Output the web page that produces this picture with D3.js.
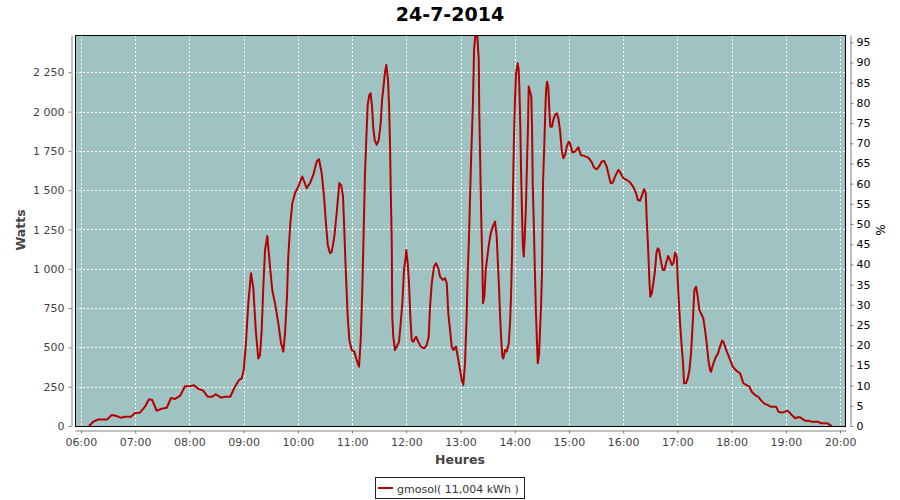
<!DOCTYPE html>
<html><head><meta charset="utf-8">
<script src="https://cdn.jsdelivr.net/npm/d3@7"></script>
<style>body{margin:0;background:#fff}svg{display:block}</style>
</head><body>
<svg id="c" width="900" height="500"></svg>
<script>
// ---- data ----
const chartTitle = "24-7-2014";
const seriesName = "gmosol( 11,004 kWh )";
const xAxisTitle = "Heures";
const yAxisTitle = "Watts";
const y2AxisTitle = "%";
// time of day in minutes after midnight
const times = [368.9,373.6,379.1,389.1,394.0,398.4,403.9,408.7,415.3,419.8,425.3,430.8,435.3,438.9,443.8,449.3,454.9,459.6,464.0,469.6,475.1,480.6,485.1,489.8,495.4,500.2,505.3,509.1,515.0,519.4,525.2,530.4,534.9,537.9,540.1,542.3,545.2,548.2,550.7,553.4,556.2,558.1,560.0,561.8,563.7,566.2,569.2,571.7,574.7,578.4,581.4,583.9,585.8,588.0,589.4,591.7,593.9,596.9,600.5,604.9,609.8,613.5,617.1,620.9,623.4,626.4,629.0,630.8,633.1,635.6,637.5,640.4,643.3,645.9,648.1,650.0,651.4,653.0,655.2,657.0,659.6,662.5,665.1,667.7,669.6,671.3,672.9,674.3,675.8,677.3,679.1,680.6,682.1,683.5,685.1,687.3,689.5,691.7,693.2,694.6,696.5,697.9,699.8,700.9,702.0,702.8,703.9,704.5,705.6,707.5,709.4,712.0,713.8,715.6,717.5,719.4,720.0,721.6,723.0,724.5,726.0,727.8,730.8,733.3,736.0,739.6,742.6,744.8,746.3,748.2,750.7,752.9,755.5,757.3,760.3,762.9,764.8,765.4,766.5,768.4,770.3,772.1,775.0,777.6,779.5,781.4,783.1,785.0,786.9,788.0,789.4,790.5,791.6,792.8,793.9,795.0,796.4,798.6,800.2,800.8,801.9,803.0,804.2,804.9,806.4,807.9,809.7,811.6,813.5,815.7,818.2,820.1,821.2,822.6,823.7,824.9,826.3,827.4,829.3,831.2,833.4,834.8,835.9,837.0,838.1,839.2,840.3,841.5,843.3,844.4,845.1,846.2,847.0,848.1,848.9,850.0,851.1,852.5,853.6,854.7,855.5,856.9,858.4,859.2,860.0,861.1,862.2,863.3,864.4,865.5,866.9,868.0,869.1,870.2,871.3,872.8,873.9,874.7,875.8,877.2,878.3,879.4,881.3,882.7,884.6,886.5,888.3,890.1,892.0,893.8,895.7,897.6,899.8,901.2,903.8,906.8,910.4,913.1,916.7,921.5,925.2,927.8,930.8,933.7,936.3,938.9,941.8,944.4,946.3,948.5,951.0,954.7,957.3,960.2,964.0,967.6,971.3,974.3,976.2,978.7,980.9,983.1,985.0,986.1,987.2,988.3,989.0,990.1,991.7,993.4,995.3,996.8,998.3,999.7,1001.6,1003.8,1005.6,1007.5,1009.7,1011.9,1013.8,1015.6,1017.4,1019.3,1020.4,1021.5,1023.0,1024.8,1026.3,1027.4,1029.6,1031.5,1033.3,1035.1,1037.0,1038.8,1040.7,1042.5,1044.3,1047.0,1048.7,1050.6,1052.5,1054.3,1056.2,1057.3,1058.7,1060.6,1062.8,1065.0,1067.2,1069.5,1070.9,1072.8,1074.7,1076.9,1079.1,1081.3,1083.8,1086.8,1089.4,1091.3,1093.0,1096.0,1099.7,1102.3,1106.0,1109.6,1112.3,1115.9,1119.6,1123.4,1129.2,1131.8,1135.5,1139.2,1141.7,1143.9,1146.6,1150.3,1152.8,1155.8,1158.3,1161.3,1165.0,1168.7,1176.0,1178.7,1186.0,1189.0,1190.9];
const watts = [0,27,42,42,70,65,53,59,59,83,85,123,170,165,97,110,116,178,172,191,253,253,259,237,225,186,186,202,180,186,186,250,293,303,356,505,781,972,880,611,430,450,611,886,1120,1209,1014,865,781,654,527,473,590,823,1078,1290,1418,1481,1523,1587,1513,1545,1597,1682,1697,1608,1459,1311,1152,1099,1109,1205,1374,1545,1530,1459,1247,992,696,547,483,473,420,377,547,865,1247,1608,1830,2042,2106,2116,2031,1894,1819,1788,1819,1926,2074,2148,2254,2297,2201,2042,1798,1501,1183,696,568,483,505,536,654,781,992,1078,1120,1035,908,696,547,536,568,536,505,494,515,568,759,908,1014,1035,1003,950,929,940,908,844,717,611,505,483,505,420,356,293,261,399,717,972,1205,1438,1671,1883,2085,2392,2480,2480,2328,1989,1650,1310,1035,781,823,992,1078,1162,1226,1268,1300,1205,1056,886,717,568,441,430,483,473,526,654,823,1078,1501,1840,2074,2244,2307,2265,2159,1904,1628,1353,1162,1078,1205,1417,1671,1904,2159,2127,2095,1883,1523,1290,1014,759,568,399,452,611,759,972,1544,1798,2010,2137,2190,2148,2010,1904,1904,1947,1978,1989,1957,1883,1756,1703,1724,1777,1808,1798,1739,1745,1773,1724,1718,1707,1678,1643,1633,1654,1682,1686,1650,1586,1544,1548,1586,1629,1608,1576,1565,1550,1519,1481,1438,1433,1469,1506,1481,1310,1183,1035,929,823,844,908,992,1099,1130,1120,1056,992,992,1035,1081,1056,1024,1035,1102,1078,929,802,654,505,399,272,272,303,356,462,654,865,886,823,738,706,685,611,526,420,356,345,377,409,441,462,505,543,536,505,473,441,409,377,361,345,335,303,272,261,250,218,197,186,165,144,134,123,123,91,85,91,97,87,70,49,55,55,45,34,34,27,27,17,17,6,0];
const xTickLabels = ["06:00","07:00","08:00","09:00","10:00","11:00","12:00","13:00","14:00","15:00","16:00","17:00","18:00","19:00","20:00"];
const wattTicks = [0,250,500,750,1000,1250,1500,1750,2000,2250];
const pctTicks = [0,5,10,15,20,25,30,35,40,45,50,55,60,65,70,75,80,85,90,95];
const xDomain = [353.4, 1206.6];
const wattDomain = [0, 2487];
const pctDomain = [0, 96.8];

// ---- layout ----
const L = 75, R = 846, T = 35, B = 426;
const svg = d3.select("#c");
const FONT = "'DejaVu Sans', sans-serif";
const bg = "#9fc3c3", red = "#b50000";

const x = d3.scaleLinear().domain(xDomain).range([L, R]);
const y = d3.scaleLinear().domain(wattDomain).range([B, T]);
const y2 = d3.scaleLinear().domain(pctDomain).range([B, T]);
const loc = d3.formatLocale({decimal: ",", thousands: " ", grouping: [3], currency: ["", ""]});
const fmt = loc.format(",d");
const hourTicks = xTickLabels.map(s => { const [h, m] = s.split(":").map(Number); return h * 60 + m; });

// title
svg.append("text").attr("x", 450).attr("y", 21).attr("text-anchor", "middle")
  .style("font", "bold 19px " + FONT).attr("fill", "#000").text(chartTitle);

// plot bg
svg.append("rect").attr("x", L).attr("y", T).attr("width", R - L).attr("height", B - T).attr("fill", bg);

// gridlines
const grid = svg.append("g").attr("stroke", "#fff").attr("stroke-width", 1).attr("stroke-dasharray", "2,2");
grid.selectAll("line.v").data(hourTicks).join("line")
  .attr("x1", d => Math.round(x(d)) + 0.5).attr("x2", d => Math.round(x(d)) + 0.5)
  .attr("y1", T).attr("y2", B);
grid.selectAll("line.h").data(wattTicks.slice(1)).join("line")
  .attr("y1", d => Math.round(y(d)) + 0.5).attr("y2", d => Math.round(y(d)) + 0.5)
  .attr("x1", L).attr("x2", R);

// clip + line
svg.append("clipPath").attr("id", "clip").append("rect")
  .attr("x", L).attr("y", T).attr("width", R - L).attr("height", B - T);
const pts = times.map((t, i) => ({t, w: watts[i]}));
svg.append("path").datum(pts).attr("clip-path", "url(#clip)")
  .attr("fill", "none").attr("stroke", red).attr("stroke-width", 2).attr("stroke-linejoin", "round")
  .attr("d", d3.line().x(d => x(d.t)).y(d => y(d.w)));

// plot border
svg.append("rect").attr("x", L + 0.5).attr("y", T + 0.5).attr("width", R - L - 1).attr("height", B - T)
  .attr("fill", "none").attr("stroke", "#000").attr("stroke-width", 1);

function styleAxis(g, color) {
  g.select(".domain").attr("stroke", "#808080");
  g.selectAll(".tick line").attr("stroke", "#808080");
  g.selectAll(".tick text").attr("fill", color).style("font", "11px " + FONT);
}

// left axis
const gl = svg.append("g").attr("transform", "translate(71.5,0)")
  .call(d3.axisLeft(y).tickValues(wattTicks).tickFormat(fmt).tickSize(3).tickSizeOuter(0).tickPadding(4));
styleAxis(gl, "#444");
// right axis
const gr = svg.append("g").attr("transform", "translate(850.5,0)")
  .call(d3.axisRight(y2).tickValues(pctTicks).tickSize(3).tickSizeOuter(0).tickPadding(3));
styleAxis(gr, "#000");
// bottom axis
const gb = svg.append("g").attr("transform", "translate(0,430.5)")
  .call(d3.axisBottom(x).tickValues(hourTicks).tickFormat((d, i) => xTickLabels[i]).tickSize(3).tickSizeOuter(0).tickPadding(5));
styleAxis(gb, "#444");

// axis titles
svg.append("text").attr("transform", "translate(25,230) rotate(-90)").attr("text-anchor", "middle")
  .style("font", "bold 12.5px " + FONT).attr("fill", "#444").text(yAxisTitle);
svg.append("text").attr("transform", "translate(876,230) rotate(90)").attr("text-anchor", "middle")
  .style("font", "12px " + FONT).attr("fill", "#000").text(y2AxisTitle);
svg.append("text").attr("x", 460).attr("y", 464).attr("text-anchor", "middle")
  .style("font", "bold 12.5px " + FONT).attr("fill", "#444").text(xAxisTitle);

// legend
const lg = svg.append("g");
lg.append("rect").attr("x", 375.5).attr("y", 477.5).attr("width", 149).attr("height", 21)
  .attr("fill", "#fff").attr("stroke", "#222");
lg.append("line").attr("x1", 378).attr("x2", 393).attr("y1", 488).attr("y2", 488)
  .attr("stroke", red).attr("stroke-width", 2);
lg.append("text").attr("x", 397).attr("y", 492.5).style("font", "11px " + FONT).attr("fill", "#333").text(seriesName);
</script>
</body></html>
